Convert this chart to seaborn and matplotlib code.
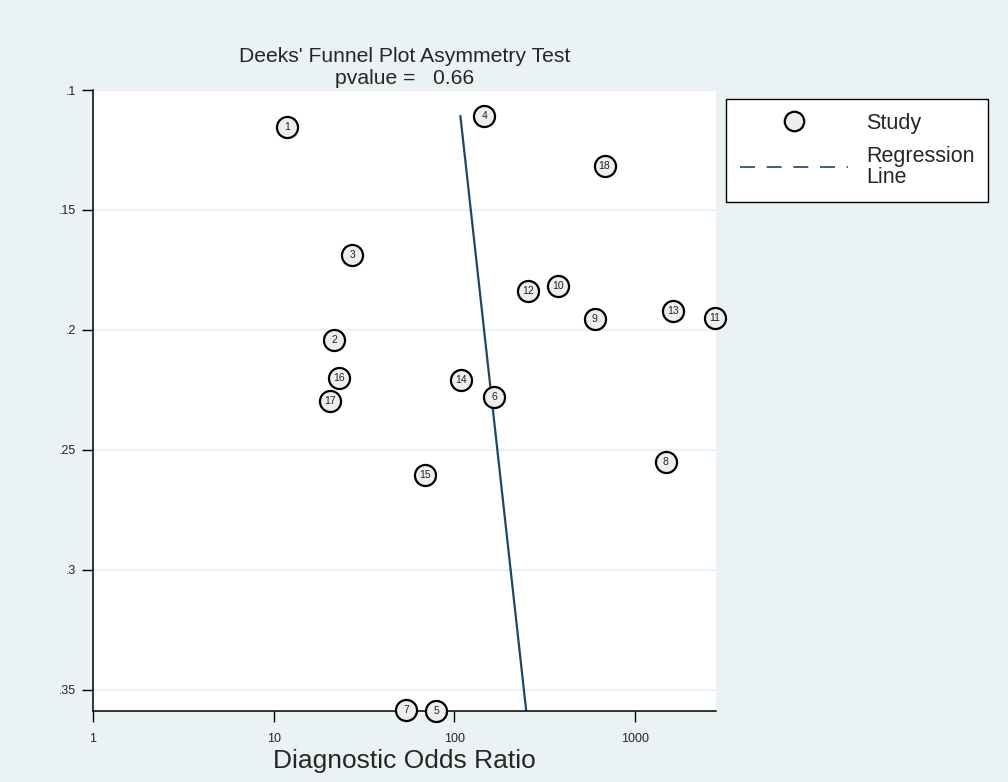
import numpy as np
import pandas as pd
import matplotlib
matplotlib.use("Agg")
import matplotlib.pyplot as plt
import seaborn as sns
from matplotlib.lines import Line2D

# ---- data ----
study_ids = [1, 2, 3, 4, 5, 6, 7, 8, 9, 10, 11, 12, 13, 14, 15, 16, 17, 18]
dor = [11.9, 21.6, 27.2, 146.6, 79.5, 166.6, 54.2, 1476, 597, 377,
       2757, 257, 1614, 109.3, 69.1, 23.1, 20.6, 678]
inv_ess = [0.1154, 0.2042, 0.1688, 0.1108, 0.3588, 0.2279, 0.3583, 0.2550,
           0.1954, 0.1817, 0.1950, 0.1838, 0.1921, 0.2208, 0.2604, 0.2200,
           0.2296, 0.1317]
reg_x = [108.0, 250.0]
reg_y = [0.1108, 0.3588]
y_ticks = [0.1, 0.15, 0.2, 0.25, 0.3, 0.35]
y_tick_labels = [".1", ".15", ".2", ".25", ".3", ".35"]
x_ticks = [1, 10, 100, 1000]
x_tick_labels = ["1", "10", "100", "1000"]

bg = "#EAF2F3"
navy = "#1A476F"

sns.set_theme(style="white")
plt.rcParams["font.family"] = ["Liberation Sans", "DejaVu Sans"]

fig = plt.figure(figsize=(10.08, 7.82), dpi=100, facecolor=bg)
ax = fig.add_axes([93/1008, 1 - 711/782, (716-93)/1008, (711-90)/782])
ax.set_facecolor("white")

df = pd.DataFrame({"dor": dor, "y": inv_ess, "id": study_ids})
reg = pd.DataFrame({"x": reg_x, "y": reg_y})

ax.set_xscale("log")
ax.set_xlim(1, 2807)
ax.set_ylim(0.3588, 0.1)

for t in y_ticks:
    ax.axhline(t, color=bg, lw=1.6, zorder=0)

sns.lineplot(data=reg, x="x", y="y", ax=ax, color=navy, lw=1.6,
             sort=False, zorder=2, legend=False)
sns.scatterplot(data=df, x="dor", y="y", ax=ax, s=230, color="#EEEEEE",
                edgecolor="black", linewidth=1.6, zorder=3, clip_on=False,
                legend=False)
for xi, yi, lab in zip(dor, inv_ess, study_ids):
    ax.text(xi, yi, str(lab), ha="center", va="center", fontsize=7.5,
            color="#222222", zorder=4, clip_on=False)

ax.set_xticks(x_ticks)
ax.set_xticklabels(x_tick_labels, fontsize=9)
ax.minorticks_off()
ax.set_yticks(y_ticks)
ax.set_yticklabels(y_tick_labels, fontsize=9)
ax.tick_params(axis="both", which="major", length=8, width=1, color="black",
               direction="out", bottom=True, left=True)
ax.tick_params(axis="y", pad=4)
ax.tick_params(axis="x", pad=8)
for s in ["top", "right"]:
    ax.spines[s].set_visible(False)
for s in ["left", "bottom"]:
    ax.spines[s].set_color("black")
    ax.spines[s].set_linewidth(1.1)

ax.set_xlabel("Diagnostic Odds Ratio", fontsize=19, labelpad=3)
ax.set_ylabel("")
ax.set_title("Deeks' Funnel Plot Asymmetry Test\npvalue =   0.66",
             fontsize=15.2, pad=4, linespacing=1.25)

handles = [
    Line2D([], [], marker="o", linestyle="none", markersize=14,
           markerfacecolor="#EEEEEE", markeredgecolor="black",
           markeredgewidth=1.6),
    Line2D([], [], color=navy, lw=1.2, linestyle=(0, (9, 7))),
]
leg = fig.legend(handles, ["Study", "Regression\nLine"],
                 loc="upper left", bbox_to_anchor=(726/1008, 1 - 99/782),
                 fontsize=15.5, frameon=True, fancybox=False,
                 edgecolor="black", facecolor="white", framealpha=1,
                 handlelength=5.0, handletextpad=0.85, borderpad=0.65,
                 labelspacing=0.55, borderaxespad=0)
leg.get_frame().set_linewidth(1.0)
for t in leg.get_texts():
    t.set_linespacing(1.0)

fig.savefig("out.png", dpi=100, facecolor=bg)
